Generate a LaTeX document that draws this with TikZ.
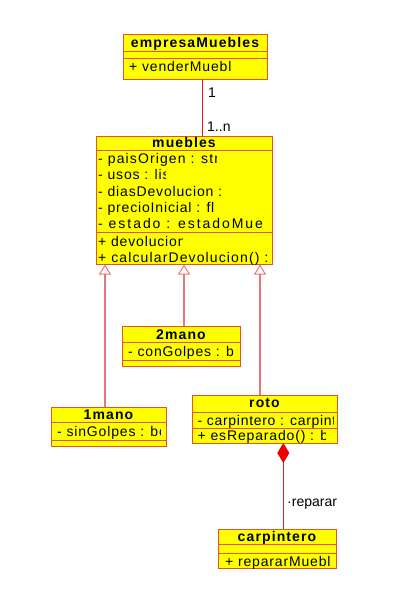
\documentclass[tikz,border=0pt]{standalone}
\usepackage{fontspec}
\newfontfamily\uml{Liberation Sans}[LetterSpace=6]
\newfontfamily\umlb{Liberation Sans}[LetterSpace=8]
\newfontfamily\umll{Liberation Sans}
\usetikzlibrary{arrows.meta}
\definecolor{boxfill}{RGB}{255,255,0}
\definecolor{boxline}{RGB}{232,80,40}
\definecolor{assocline}{RGB}{222,30,30}
\definecolor{genline}{RGB}{236,118,118}
\definecolor{diafill}{RGB}{240,0,0}
\newcommand\umlsep[2]{\draw[sepline] ([yshift=-#2pt]#1.north west) -- ([yshift=-#2pt]#1.north east);}
\newcommand\ctxt[5]{\begin{scope}\clip (#2-3,#3-14) rectangle (#4,#3+5); \node[txt] (#1) at (#2,#3) {#5};\end{scope}}
\newcommand\ls[1]{\addfontfeature{LetterSpace=#1}}
\begin{document}
\begin{tikzpicture}[x=1pt,y=-1pt,
  font=\uml\fontsize{14}{16}\selectfont,
  cls/.style={draw=boxline, fill=boxfill, line width=1pt, inner sep=0pt, outer sep=0pt, anchor=north west, rectangle},
  sepline/.style={draw=boxline, line width=1pt},
  nm/.style={font=\umlb\bfseries\fontsize{14}{16}\selectfont, anchor=base, inner sep=0pt},
  txt/.style={anchor=base west, inner sep=0pt},
  lbl/.style={anchor=base west, inner sep=0pt, font=\umll\fontsize{14}{16}\selectfont},
  gen/.style={draw=genline, line width=2pt, -{Triangle[open, length=10pt, width=12pt, line width=1pt]}},
  assoc/.style={draw=assocline, line width=1pt},
  comp/.style={draw=assocline, line width=1pt, {Diamond[length=20pt, width=12pt, fill=diafill, color=diafill]}-}
]
\fill[white] (0,0) rectangle (402,597);
\useasboundingbox (0,0) rectangle (402,597);

% empresaMuebles
\node[cls, minimum width=144pt, minimum height=45pt] (emp) at (123,34) {};
\umlsep{emp}{17}\umlsep{emp}{24}
\node[nm] (emp-n) at ([yshift=-13.3pt]emp.north) {empresaMuebles};
\ctxt{emp-m1}{129}{71.7}{231}{+ venderMuebl}

% muebles
\node[cls, minimum width=176pt, minimum height=128.5pt] (mueb) at (96,136) {};
\umlsep{mueb}{14}\umlsep{mueb}{96}
\node[nm] (mueb-n) at ([yshift=-11.3pt]mueb.north) {muebles};
\ctxt{mueb-a1}{98}{163.3}{216}{\ls{8}- paisOrigen : str}
\ctxt{mueb-a2}{98}{179.7}{165.5}{- usos : lis}
\ctxt{mueb-a3}{98}{196}{271}{- diasDevolucion :}
\ctxt{mueb-a4}{98}{212.3}{271}{- precioInicial : fl}
\ctxt{mueb-a5}{98}{228.7}{263}{\ls{14}- estado : estadoMue}
\ctxt{mueb-m1}{98}{246.3}{182}{+ devolucion}
\ctxt{mueb-m2}{98}{262.3}{271}{\ls{8}+ calcularDevolucion() :}

% 2mano
\node[cls, minimum width=118pt, minimum height=40pt] (two) at (122,326) {};
\umlsep{two}{16}\umlsep{two}{34}
\node[nm] (two-n) at ([yshift=-13.3pt]two.north) {2mano};
\ctxt{two-a1}{128}{356}{239}{- conGolpes : b}

% 1mano
\node[cls, minimum width=115pt, minimum height=39pt] (one) at (51,407) {};
\umlsep{one}{15}\umlsep{one}{33}
\node[nm] (one-n) at ([yshift=-12.3pt]one.north) {1mano};
\ctxt{one-a1}{57}{436.7}{160}{- sinGolpes : bo}

% roto
\node[cls, minimum width=145pt, minimum height=48pt] (roto) at (192,395) {};
\umlsep{roto}{17}\umlsep{roto}{33}
\node[nm] (roto-n) at ([yshift=-12.7pt]roto.north) {roto};
\ctxt{roto-a1}{197.5}{425}{333.5}{\ls{5}- carpintero : carpint}
\ctxt{roto-m1}{197.5}{440}{325}{+ esReparado() : b}

% carpintero
\node[cls, minimum width=118pt, minimum height=39pt] (carp) at (218,529) {};
\umlsep{carp}{15}\umlsep{carp}{24}
\node[nm] (carp-n) at ([yshift=-12.7pt]carp.north) {carpintero};
\ctxt{carp-m1}{225}{566}{335}{+ repararMuebl}

% association empresaMuebles - muebles
\coordinate (ea) at (202,79);
\draw[assoc] (ea) -- (ea |- mueb.north);
\node[lbl] (l1) at (208,97) {1};
\node[lbl] (l1n) at (207,131.7) {1..n};

% generalizations
\coordinate (g1) at (105,407);
\coordinate (g2) at (184,326);
\coordinate (g3) at (260,395);
\draw[gen] (g1) -- (g1 |- mueb.south);
\draw[gen] (g2) -- (g2 |- mueb.south);
\draw[gen] (g3) -- (g3 |- mueb.south);

% composition roto - carpintero
\coordinate (dt) at (283.3,443);
\draw[comp] (dt) -- (dt |- carp.north);
\node[lbl] (lrep) at (287,506.7) {·reparar};
\end{tikzpicture}
\end{document}
